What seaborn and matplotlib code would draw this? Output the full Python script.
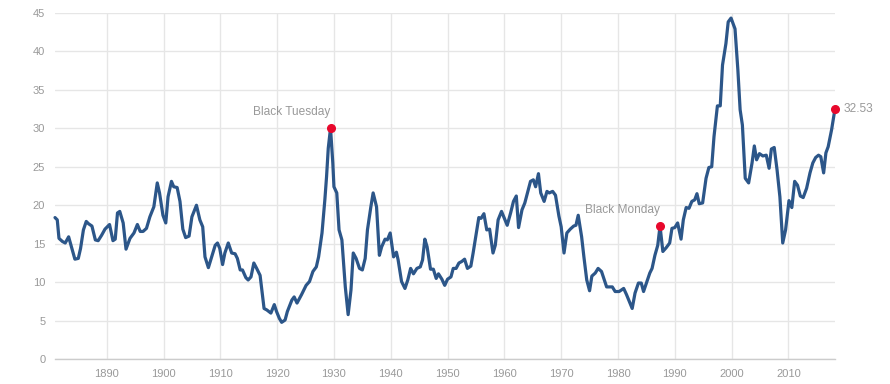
import pandas as pd
import matplotlib
matplotlib.use("Agg")
import matplotlib.pyplot as plt
import seaborn as sns

# Shiller PE ratio
years = [
    1880.9, 1881.3, 1881.6, 1882.2, 1882.7, 1883.3, 1884.4, 1885.0, 1885.4, 1885.9,
    1886.4, 1886.8, 1887.4, 1888.0, 1888.5, 1889.1, 1889.7, 1890.5, 1891.1, 1891.5,
    1891.9, 1892.3, 1892.9, 1893.4, 1894.1, 1894.8, 1895.4, 1895.9, 1896.4, 1897.0,
    1897.6, 1898.3, 1898.9, 1899.3, 1899.9, 1900.4, 1900.8, 1901.4, 1901.8, 1902.4,
    1902.9, 1903.4, 1903.9, 1904.5, 1905.0, 1905.8, 1906.4, 1906.9, 1907.3, 1907.9,
    1909.1, 1909.5, 1909.9, 1910.4, 1910.8, 1911.4, 1912.0, 1912.6, 1913.0, 1913.5,
    1913.9, 1914.5, 1914.9, 1915.4, 1915.9, 1916.4, 1917.0, 1917.7, 1918.2, 1918.9,
    1919.5, 1919.9, 1920.4, 1920.8, 1921.4, 1921.8, 1922.6, 1923.0, 1923.5, 1924.3,
    1925.1, 1925.7, 1926.3, 1926.9, 1927.3, 1927.9, 1928.4, 1928.7, 1929.0, 1929.4,
    1929.8, 1930.0, 1930.5, 1930.9, 1931.4, 1932.0, 1932.5, 1933.0, 1933.4, 1933.9,
    1934.5, 1935.0, 1935.5, 1935.9, 1936.5, 1936.9, 1937.5, 1938.0, 1938.4, 1939.0,
    1939.4, 1939.9, 1940.5, 1941.0, 1941.3, 1941.9, 1942.5, 1943.0, 1943.5, 1944.0,
    1944.6, 1945.2, 1945.6, 1946.0, 1946.4, 1947.0, 1947.5, 1948.0, 1948.4, 1949.0,
    1949.5, 1950.0, 1950.6, 1951.0, 1951.5, 1952.0, 1952.5, 1953.0, 1953.5, 1954.1,
    1954.5, 1955.0, 1955.5, 1955.9, 1956.4, 1956.9, 1957.4, 1958.0, 1958.4, 1958.9,
    1959.5, 1960.1, 1960.5, 1961.1, 1961.6, 1962.1, 1962.5, 1963.1, 1963.6, 1964.2,
    1964.6, 1965.1, 1965.5, 1966.0, 1966.4, 1967.0, 1967.5, 1967.9, 1968.5, 1969.0,
    1969.6, 1970.0, 1970.5, 1971.0, 1971.6, 1972.2, 1972.6, 1973.0, 1973.6, 1974.0,
    1974.5, 1975.0, 1975.4, 1976.0, 1976.5, 1977.1, 1977.5, 1978.0, 1978.6, 1979.0,
    1979.5, 1980.2, 1981.0, 1981.5, 1982.0, 1982.5, 1983.0, 1983.6, 1984.1, 1984.5,
    1985.1, 1985.6, 1986.0, 1986.5, 1987.0, 1987.4, 1987.9, 1988.5, 1989.1, 1989.5,
    1990.0, 1990.5, 1991.1, 1991.5, 1992.0, 1992.5, 1993.0, 1993.5, 1993.9, 1994.3,
    1994.9, 1995.5, 1996.0, 1996.5, 1996.9, 1997.5, 1998.0, 1998.4, 1999.0, 1999.4,
    1999.9, 2000.6, 2001.1, 2001.5, 2001.9, 2002.4, 2003.0, 2003.6, 2004.0, 2004.4,
    2004.9, 2005.5, 2006.1, 2006.6, 2007.0, 2007.5, 2008.0, 2008.5, 2009.0, 2009.5,
    2010.1, 2010.6, 2011.1, 2011.6, 2012.1, 2012.6, 2013.2, 2013.8, 2014.3, 2014.8,
    2015.3, 2015.7, 2016.2, 2016.6, 2017.0, 2017.6, 2018.2,
]
pe_ratio = [
    18.4, 18.1, 15.7, 15.3, 15.1, 15.9, 13.0, 13.1, 14.4, 16.8,
    17.9, 17.6, 17.3, 15.5, 15.4, 16.1, 16.9, 17.5, 15.4, 15.6,
    19.0, 19.2, 17.7, 14.3, 15.7, 16.4, 17.5, 16.6, 16.6, 17.0,
    18.5, 19.8, 22.9, 21.6, 18.7, 17.7, 21.1, 23.1, 22.4, 22.3,
    20.5, 16.9, 15.8, 16.0, 18.5, 20.0, 18.1, 17.2, 13.3, 11.9,
    14.8, 15.1, 14.4, 12.3, 13.8, 15.1, 13.8, 13.7, 13.1, 11.6,
    11.6, 10.6, 10.3, 10.7, 12.5, 11.8, 10.9, 6.6, 6.4, 6.0,
    7.1, 6.2, 5.3, 4.8, 5.1, 6.2, 7.7, 8.1, 7.3, 8.4,
    9.6, 10.1, 11.4, 12.0, 13.3, 16.4, 20.7, 23.7, 27.4, 30.0,
    25.5, 22.4, 21.6, 16.8, 15.5, 9.4, 5.8, 9.0, 13.8, 13.1,
    11.8, 11.6, 13.1, 16.8, 19.8, 21.6, 19.8, 13.5, 14.6, 15.6,
    15.5, 16.4, 13.3, 13.9, 12.9, 10.1, 9.2, 10.3, 11.8, 11.1,
    11.8, 12.0, 12.9, 15.6, 14.6, 11.7, 11.7, 10.5, 11.1, 10.4,
    9.6, 10.4, 10.7, 11.8, 11.8, 12.5, 12.7, 13.0, 11.8, 12.1,
    13.8, 16.1, 18.4, 18.3, 18.9, 16.8, 16.9, 13.8, 14.8, 18.1,
    19.2, 18.1, 17.4, 19.0, 20.5, 21.2, 17.1, 19.4, 20.3, 22.0,
    23.1, 23.3, 22.4, 24.1, 21.6, 20.5, 21.8, 21.6, 21.8, 21.3,
    18.6, 17.2, 13.8, 16.4, 16.9, 17.3, 17.4, 18.7, 15.9, 13.3,
    10.3, 8.9, 10.8, 11.2, 11.8, 11.4, 10.5, 9.4, 9.4, 9.4,
    8.8, 8.8, 9.2, 8.4, 7.5, 6.6, 8.6, 9.9, 9.9, 8.8,
    10.1, 11.2, 11.8, 13.5, 14.8, 17.3, 14.0, 14.5, 15.1, 17.0,
    17.1, 17.7, 15.6, 18.1, 19.7, 19.6, 20.5, 20.7, 21.5, 20.2,
    20.3, 23.5, 24.9, 25.0, 28.9, 32.9, 32.9, 38.2, 41.0, 43.8,
    44.3, 42.9, 37.6, 32.4, 30.4, 23.5, 22.9, 25.5, 27.7, 25.9,
    26.7, 26.4, 26.5, 24.8, 27.3, 27.5, 24.6, 21.1, 15.1, 16.8,
    20.6, 19.7, 23.1, 22.6, 21.2, 21.0, 22.2, 24.2, 25.5, 26.2,
    26.5, 26.3, 24.2, 26.8, 27.6, 29.8, 32.53,
]

event_years = [1929.4, 1987.4]
event_labels = ["Black Tuesday", "Black Monday"]
y_ticks = [0, 5, 10, 15, 20, 25, 30, 35, 40, 45]
x_ticks = [1890, 1900, 1910, 1920, 1930, 1940, 1950, 1960, 1970, 1980, 1990, 2000, 2010]

line_color = "#2c5689"
dot_color = "#e8082c"
text_color = "#999999"
grid_color = "#e6e6e6"

df = pd.DataFrame({"year": years, "pe": pe_ratio})

sns.set_theme(style="whitegrid")
plt.rcParams["font.family"] = ["Liberation Sans", "DejaVu Sans"]

fig = plt.figure(figsize=(8.9, 3.84), dpi=100)
ax = fig.add_axes([0.0618, 0.0643, 0.8764, 0.9027])

sns.lineplot(data=df, x="year", y="pe", ax=ax, color=line_color, linewidth=2.3,
             estimator=None, sort=False)
ax.lines[0].set_solid_joinstyle("round")
ax.lines[0].set_clip_on(False)

# red markers for the two crashes and the latest value
marked = df[df["year"].isin(event_years)]
last = df.iloc[[-1]]
ax.plot(marked["year"], marked["pe"], "o", color=dot_color, markersize=5.5,
        zorder=5, clip_on=False)
ax.plot(last["year"], last["pe"], "o", color=dot_color, markersize=5.5,
        zorder=5, clip_on=False)

for (_, row), label in zip(marked.iterrows(), event_labels):
    ax.annotate(label, xy=(row["year"], row["pe"]), xytext=(0, 11.5),
                textcoords="offset points", ha="right", va="center",
                color=text_color, fontsize=8.6)
ax.annotate(f"{last['pe'].iloc[0]:.2f}", xy=(last["year"].iloc[0], last["pe"].iloc[0]),
            xytext=(6, 0), textcoords="offset points", ha="left", va="center",
            color=text_color, fontsize=8.6)

ax.set_xlim(1880.9, 2018.2)
ax.set_ylim(0, 45)
ax.set_xticks(x_ticks)
ax.set_yticks(y_ticks)
ax.set_xlabel("")
ax.set_ylabel("")
ax.grid(True, color=grid_color, linewidth=1)
ax.tick_params(axis="both", length=0, labelsize=8, labelcolor=text_color)
ax.tick_params(axis="y", pad=7)
ax.tick_params(axis="x", pad=7)
for side in ["top", "right", "left"]:
    ax.spines[side].set_visible(False)
ax.spines["bottom"].set_color("#cccccc")
ax.spines["bottom"].set_linewidth(1)

fig.savefig("out.png", dpi=100)
